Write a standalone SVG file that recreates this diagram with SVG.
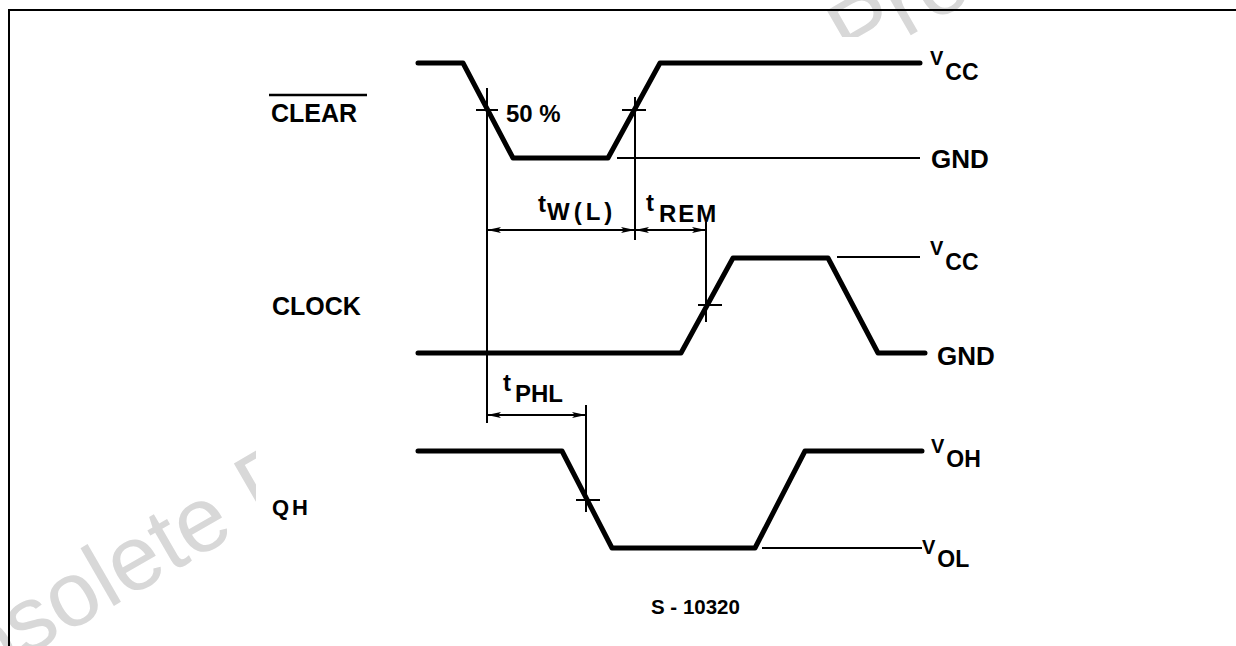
<svg xmlns="http://www.w3.org/2000/svg" width="1236" height="646" viewBox="0 0 1236 646">
<style>
.sig{fill:none;stroke:#000;stroke-width:5;stroke-linecap:round;stroke-linejoin:round}
.thin{fill:none;stroke:#000;stroke-width:2}
.ref{fill:none;stroke:#000;stroke-width:2}
.lbl{font-family:"Liberation Sans",Arial,sans-serif;font-weight:bold;fill:#000}
.wm{font-family:"Liberation Sans",Arial,sans-serif;fill:#d8d8d8}
</style>
<defs>
<clipPath id="wmclip">
<rect x="0" y="0" width="1236" height="37"/>
<rect x="0" y="0" width="256" height="646"/>
</clipPath>
<marker id="ah" viewBox="0 0 14 7" refX="14" refY="3.5" markerWidth="14" markerHeight="7" markerUnits="userSpaceOnUse" orient="auto-start-reverse">
<path d="M0,0.5 L14,3.5 L0,6.5 L3,3.5 Z" fill="#000"/>
</marker>
</defs>
<rect width="1236" height="646" fill="#fff"/>
<g id="watermark" clip-path="url(#wmclip)">
<text class="wm" font-size="92" transform="translate(-82,719) rotate(-30)">Obsolete Product(s)</text>
<text class="wm" font-size="92" transform="translate(511,266) rotate(-30)">Obsolete Product(s)</text>
</g>
<g id="frame">
<path class="ref" d="M9,646 V10 H1236"/>
</g>
<g id="clear">
<path class="sig" d="M418,63 H463 L513,158 H608 L660,63 H920"/>
<path class="thin" d="M617,158 H920"/>
<line x1="269" y1="95" x2="367" y2="95" stroke="#000" stroke-width="2.5"/>
<text class="lbl" x="271" y="122" font-size="25">CLEAR</text>
<text class="lbl" x="506" y="122" font-size="24">50 %</text>
<text class="lbl" x="930" y="65" font-size="20">V<tspan font-size="23" dx="2" dy="15">CC</tspan></text>
<text class="lbl" x="931" y="168" font-size="26">GND</text>
</g>
<g id="clock">
<path class="sig" d="M418,353 H681 L733,258 H828 L878,353 H925"/>
<path class="thin" d="M837,257 H920"/>
<text class="lbl" x="272" y="315" font-size="25">CLOCK</text>
<text class="lbl" x="930" y="255" font-size="20">V<tspan font-size="23" dx="2" dy="15">CC</tspan></text>
<text class="lbl" x="937" y="365" font-size="26">GND</text>
</g>
<g id="qh">
<path class="sig" d="M418,451 H562 L612,548 H755 L805,451 H922"/>
<path class="thin" d="M762,548 H922"/>
<text class="lbl" x="272" y="515" font-size="22" letter-spacing="3">QH</text>
<text class="lbl" x="931" y="453" font-size="20">V<tspan font-size="23" dx="2" dy="14">OH</tspan></text>
<text class="lbl" x="922" y="554" font-size="20">V<tspan font-size="23" dx="2" dy="13">OL</tspan></text>
</g>
<g id="connectors">
<path class="ref" d="M476,110 H498 M487,88 V423"/>
<path class="ref" d="M622,110 H646 M635,97 V240"/>
<path class="ref" d="M698,305 H722 M706,222 V322"/>
<path class="ref" d="M576,500 H600 M586,405 V512"/>
<line class="ref" x1="487" y1="230" x2="635" y2="230" marker-start="url(#ah)" marker-end="url(#ah)"/>
<line class="ref" x1="635" y1="230" x2="706" y2="230" marker-start="url(#ah)" marker-end="url(#ah)"/>
<line class="ref" x1="487" y1="415" x2="586" y2="415" marker-start="url(#ah)" marker-end="url(#ah)"/>
</g>
<g id="timing-labels">
<text class="lbl" x="538" y="212" font-size="24">t<tspan dx="1" dy="8" letter-spacing="4">W(L)</tspan></text>
<text class="lbl" x="646" y="211" font-size="24">t<tspan dx="5" dy="11" letter-spacing="2">REM</tspan></text>
<text class="lbl" x="503" y="391" font-size="24">t<tspan dx="4" dy="11">PHL</tspan></text>
</g>
<text class="lbl" x="651" y="614" font-size="20.5">S - 10320</text>
</svg>
